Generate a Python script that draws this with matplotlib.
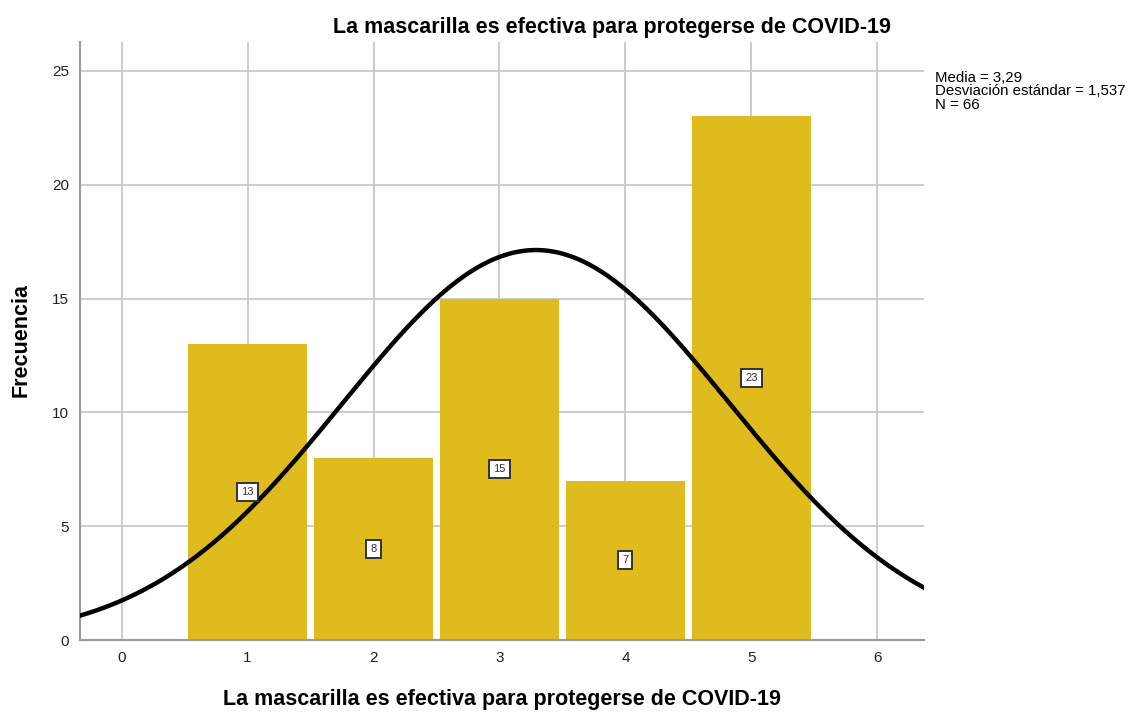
import matplotlib.pyplot as plt
import numpy as np

plt.rcParams['font.family'] = ['Liberation Sans', 'DejaVu Sans']

categorias = [1, 2, 3, 4, 5]
frecuencias = [13, 8, 15, 7, 23]
media = 3.29
desv = 1.537
n = 66

color_barra = '#E0BB1E'
gris = '#c8c8c8'

fig = plt.figure(figsize=(11.4, 7.12), dpi=100)
ax = fig.add_axes([80 / 1140, 72 / 712, 844 / 1140, 598 / 712])

ax.bar(categorias, frecuencias, width=0.95, color=color_barra, zorder=2)

for c, f in zip(categorias, frecuencias):
    ax.text(c, f / 2, str(f), ha='center', va='center', fontsize=8, color='#333333',
            bbox=dict(boxstyle='square,pad=0.35', fc='white', ec='#333333', lw=1.4), zorder=5)

# curva normal con media, desviacion y N
xs = np.linspace(-0.35, 6.4, 400)
ys = n * np.exp(-0.5 * ((xs - media) / desv) ** 2) / (desv * np.sqrt(2 * np.pi))
ax.plot(xs, ys, color='black', lw=3.2, zorder=4)

ax.set_xlim(-0.33, 6.37)
ax.set_ylim(0, 26.27)
ax.set_xticks(range(0, 7))
ax.set_yticks(range(0, 26, 5))
ax.grid(True, color=gris, lw=1.3, zorder=0)
ax.set_axisbelow(True)
for s in ['top', 'right']:
    ax.spines[s].set_visible(False)
for s in ['left', 'bottom']:
    ax.spines[s].set_color('#999999')
    ax.spines[s].set_linewidth(1.5)
ax.tick_params(length=0, labelsize=11, colors='#222222', pad=8)

fig.text(612 / 1140, 1 - 28 / 712, 'La mascarilla es efectiva para protegerse de COVID-19',
         ha='center', va='center', fontsize=15.5, fontweight='bold')
fig.text(502 / 1140, 1 - 699 / 712, 'La mascarilla es efectiva para protegerse de COVID-19',
         ha='center', va='center', fontsize=15.5, fontweight='bold')
fig.text(21 / 1140, 1 - 340 / 712, 'Frecuencia', rotation=90,
         ha='center', va='center', fontsize=15.5, fontweight='bold')
fig.text(935 / 1140, 1 - 71 / 712,
         'Media = 3,29\nDesviación estándar = 1,537\nN = 66',
         ha='left', va='top', fontsize=10.8, linespacing=0.95)

fig.savefig('out.png')
